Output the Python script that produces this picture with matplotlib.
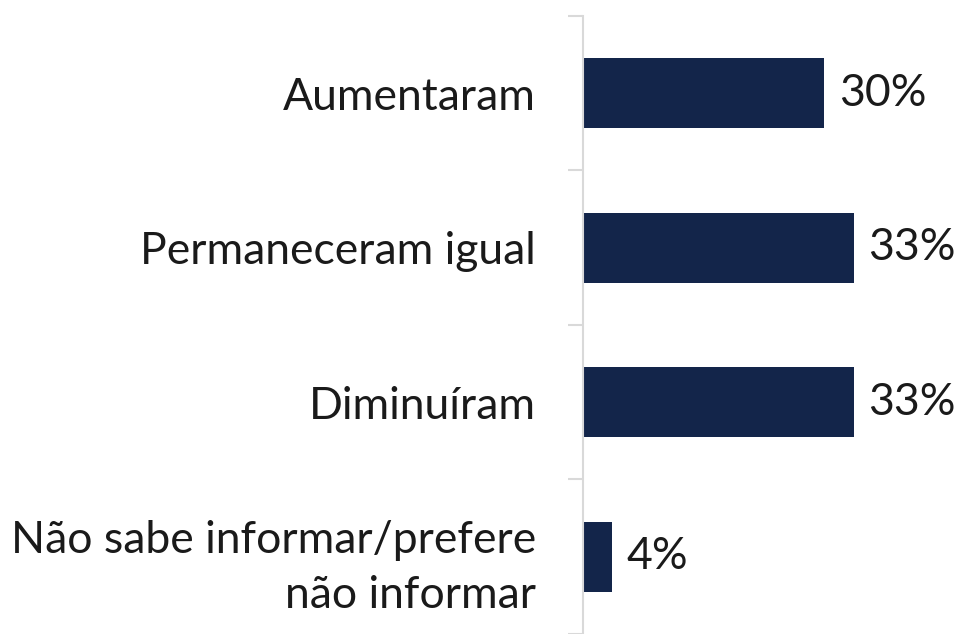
import numpy as np
import matplotlib.pyplot as plt

categories = ["Aumentaram", "Permaneceram igual", "Diminuíram",
              "Não sabe informar/prefere\nnão informar"]
values = [29.8, 33.4, 33.4, 3.6]
labels = ["30%", "33%", "33%", "4%"]

bar_color = "#13254A"
grid_color = "#D9D9D9"
text_color = "#1A1A1A"

plt.rcParams['font.family'] = ['Lato', 'DejaVu Sans']

fig = plt.figure(figsize=(9.61, 6.34), dpi=100)
ax = fig.add_axes([0.6067, 0.0, 0.3877, 0.9748])

y = np.arange(len(categories))
ax.barh(y, values, height=0.455, color=bar_color)

for yi, v, lab in zip(y, values, labels):
    ax.text(v + 1.8, yi, lab, va="center", ha="left", fontsize=32,
            color=text_color)

ax.set_xlim(0, 46)
ax.set_ylim(len(categories) - 0.5, -0.5)

ax.set_yticks(y)
ax.set_yticklabels(categories, fontsize=32, color=text_color, linespacing=1.42)
ax.tick_params(axis="y", which="major", length=0, pad=34)
ax.set_yticks(np.arange(-0.5, len(categories), 1.0), minor=True)
ax.tick_params(axis="y", which="minor", length=11, width=1.5, color=grid_color)

ax.set_xticks([])
for s in ["top", "right", "bottom"]:
    ax.spines[s].set_visible(False)
ax.spines["left"].set_color(grid_color)
ax.spines["left"].set_linewidth(1.5)

fig.savefig("out.png", dpi=100)
